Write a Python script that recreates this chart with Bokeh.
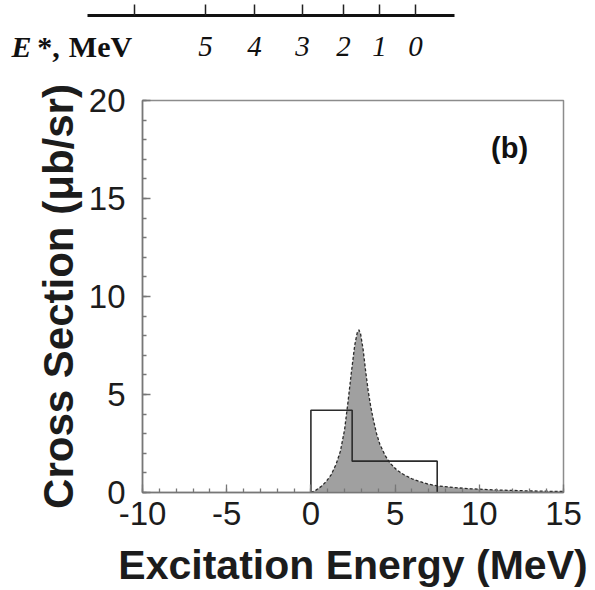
from bokeh.plotting import figure
from bokeh.layouts import column
from bokeh.models import Range1d, FixedTicker, Label
from bokeh.core.properties import value
from bokeh.embed import file_html
from bokeh.resources import INLINE

# Calculated cross section (shaded curve): excitation energy (MeV) and cross section (ub/sr)
curve_e = [0.0, 0.3, 0.6, 0.9, 1.2, 1.5, 1.75, 2.0, 2.2, 2.4, 2.6, 2.75, 2.85, 2.95,
           3.1, 3.25, 3.4, 3.55, 3.7, 3.9, 4.1, 4.4, 4.7, 5.1, 5.5, 6.0, 6.5, 7.0,
           7.5, 8.5, 9.5, 11.0, 13.0, 15.0]
curve_xs = [0.0, 0.12, 0.3, 0.55, 0.9, 1.45, 2.1, 3.2, 4.6, 6.1, 7.5, 8.15, 8.3, 8.1,
            7.3, 6.2, 5.2, 4.4, 3.75, 3.0, 2.45, 1.9, 1.5, 1.15, 0.92, 0.7, 0.55, 0.42,
            0.34, 0.25, 0.19, 0.13, 0.08, 0.05]

# Measured cross section in two excitation-energy bins
bin_edges = [0.0, 2.45, 7.5]
bin_xs = [4.2, 1.6]

# Axis ticks
x_major = [-10, -5, 0, 5, 10, 15]
y_major = [0, 5, 10, 15, 20]

# Upper E* scale (nonlinear): tick positions along the strip and their labels
estar_pos = [134, 205, 254, 302, 343, 379, 415]
estar_labels = ["", "5", "4", "3", "2", "1", "0"]

SANS = "Liberation Sans"
SERIF = "Liberation Serif"


def no_frame_align(fig):
    if hasattr(fig, "frame_align"):
        fig.frame_align = False


# ---- upper strip with the E* scale (strip coordinates run left-right, top-down) ----
top = figure(width=595, height=62, x_range=Range1d(0, 595), y_range=Range1d(62, 0),
             toolbar_location=None, output_backend="svg",
             x_axis_location=None, y_axis_location=None, min_border=0)
no_frame_align(top)
top.outline_line_color = None
top.grid.visible = False

rule_y, tick_top, label_base = 15, 4, 46
top.segment(x0=[87], y0=[rule_y], x1=[454], y1=[rule_y], line_width=3, line_color="#111111")
top.segment(x0=estar_pos, y0=[rule_y] * len(estar_pos), x1=estar_pos,
            y1=[tick_top] * len(estar_pos), line_width=1.5, line_color="#222222")
top.text(x=estar_pos, y=[label_base] * len(estar_pos), text=estar_labels,
         text_align="center", text_baseline="alphabetic",
         text_font=value(SERIF), text_font_style="italic", text_font_size="29px",
         text_color="#111111")
top.text(x=[21], y=[label_base], text=["E"], text_align="center", text_baseline="alphabetic",
         text_font=value(SERIF), text_font_style="bold italic", text_font_size="30px",
         text_color="#111111")
top.text(x=[48, 100], y=[label_base, label_base], text=["*,", "MeV"],
         text_align="center", text_baseline="alphabetic",
         text_font=value(SERIF), text_font_style="bold", text_font_size="30px",
         text_color="#111111")

# ---- main panel ----
p = figure(width=595, height=528, x_range=Range1d(-10, 15), y_range=Range1d(0, 20),
           toolbar_location=None, output_backend="svg",
           min_border_left=142, min_border_right=32, min_border_top=38, min_border_bottom=98)
no_frame_align(p)
p.grid.visible = False
p.outline_line_color = "#8c8c8c"
p.outline_line_width = 1.5

# shaded calculated curve with dark dashed edge
p.varea(x=curve_e, y1=[0] * len(curve_e), y2=curve_xs, fill_color="#a0a0a0")
p.line(curve_e, curve_xs, line_color="#2a2a2a", line_width=1.3, line_dash="3 2")

# measured bins drawn as a step outline
step_x, step_y = [bin_edges[0]], [0.0]
for i, v in enumerate(bin_xs):
    step_x += [bin_edges[i], bin_edges[i + 1]]
    step_y += [v, v]
step_x.append(bin_edges[-1])
step_y.append(0.0)
p.line(step_x, step_y, line_color="#2b2b2b", line_width=1.6)

p.xaxis.ticker = FixedTicker(ticks=x_major, minor_ticks=list(range(-10, 16)))
p.yaxis.ticker = FixedTicker(ticks=y_major, minor_ticks=list(range(0, 21)))
p.xaxis.major_label_overrides = {t: str(t) for t in x_major}
p.xaxis.axis_label = "Excitation Energy (MeV)"
p.yaxis.axis_label = "Cross Section (\u03bcb/sr)"

for ax in (p.xaxis, p.yaxis):
    ax.axis_line_color = "#777777"
    ax.axis_line_width = 1.5
    ax.major_tick_in = 8
    ax.major_tick_out = 0
    ax.minor_tick_in = 4
    ax.minor_tick_out = 0
    ax.major_tick_line_color = "#777777"
    ax.minor_tick_line_color = "#777777"
    ax.major_tick_line_width = 1.3
    ax.minor_tick_line_width = 1.3
    ax.major_label_text_font = SANS
    ax.major_label_text_font_size = "33px"
    ax.major_label_text_color = "#1c1c1c"
    ax.axis_label_text_font = SANS
    ax.axis_label_text_font_style = "bold"
    ax.axis_label_text_color = "#1c1c1c"

p.xaxis.axis_label_text_font_size = "41px"
p.yaxis.axis_label_text_font_size = "42px"
p.xaxis.major_label_standoff = 9
p.xaxis.axis_label_standoff = 14
p.yaxis.major_label_standoff = 17
p.yaxis.axis_label_standoff = 4

p.add_layout(Label(x=11.8, y=17.6, text="(b)", text_font=SANS, text_font_style="bold",
                   text_font_size="29px", text_align="center", text_baseline="middle",
                   text_color="#111111"))

layout = column(top, p, spacing=0)
open("out.html", "w").write(file_html(layout, INLINE))
